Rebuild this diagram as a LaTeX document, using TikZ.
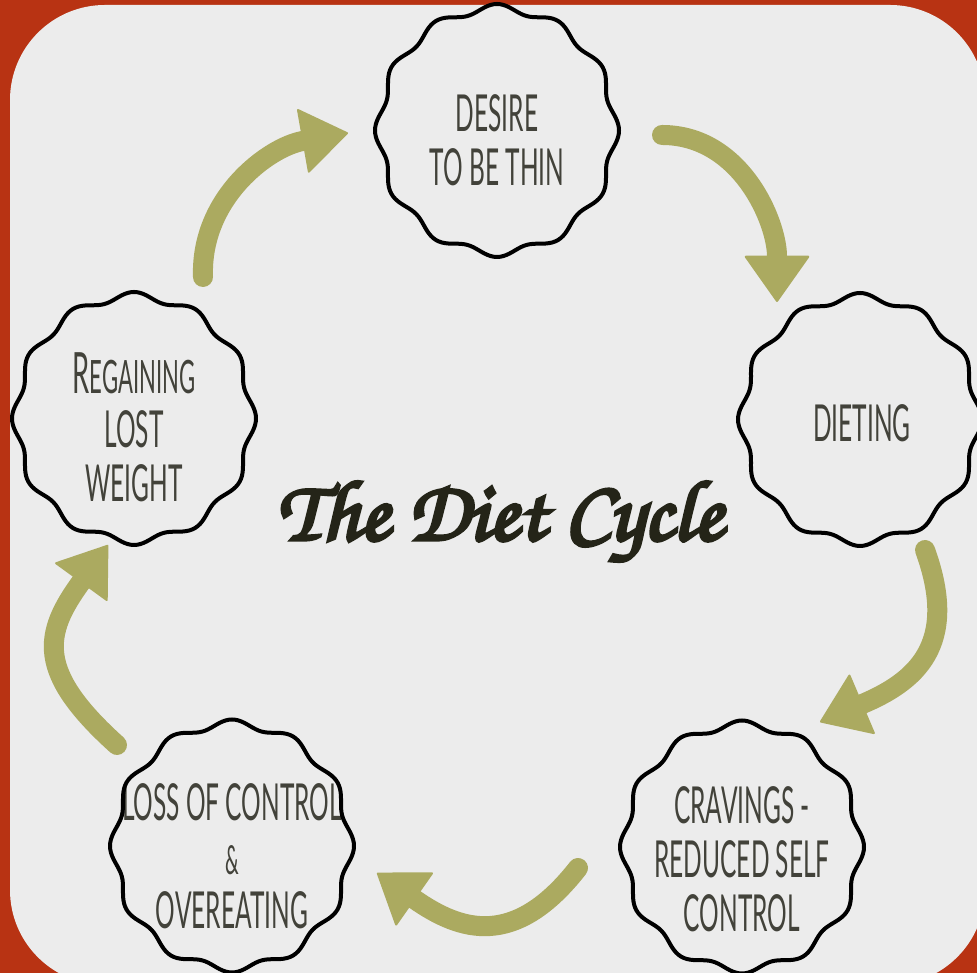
\documentclass[tikz,border=0pt]{standalone}
\usepackage[T1]{fontenc}
\usepackage{fontspec}
\usetikzlibrary{arrows.meta,calc}
\newfontfamily\badgefont[FakeStretch=0.48]{Lato}
\newcommand{\dietscript}{\fontencoding{T1}\fontfamily{pzc}\fontseries{mb}\fontshape{it}\selectfont}
\definecolor{rust}{RGB}{184,51,19}
\definecolor{panel}{RGB}{236,236,236}
\definecolor{olive}{RGB}{171,170,96}
\definecolor{ink}{RGB}{66,66,58}
\definecolor{titleink}{RGB}{36,36,24}
\tikzset{
  badge/.style={align=center, inner sep=0pt, text=ink, font=\badgefont\fontsize{51}{54}\selectfont},
  wave/.style={line width=4pt, line join=round},
  cyc/.style={draw=olive, line width=20pt, line cap=round, -{Triangle[length=47pt,width=66pt,line width=2pt,round]}},
  titletext/.style={anchor=base, inner sep=0pt, text=titleink, font=\dietscript\fontsize{86}{86}\selectfont}
}
\begin{document}
\begin{tikzpicture}[x=1pt,y=1pt]
  \useasboundingbox (0,0) rectangle (977,973);
  \fill[rust] (0,0) rectangle (977,973);
  \fill[panel, rounded corners=95pt] (10,-12) rectangle (985,968);

  \node[badge] (desire) at (497,832.5){DESIRE\\TO BE THIN};
  \node[badge] (dieting) at (862,549.5){DIETING};
  \node[badge] (cravings) at (742,114){CRAVINGS -\\REDUCED SELF\\CONTROL};
  \node[badge] (loss) at (232,117){LOSS OF CONTROL\\{\fontsize{40}{54}\selectfont\&}\\OVEREATING};
  \node[badge] (regain) at (134,545.5){{\fontsize{57}{54}\selectfont R}{\fontsize{46}{54}\selectfont EGAINING}\\LOST\\WEIGHT};

  \foreach \n/\dx/\dy in {desire/0/10, dieting/-2/4, cravings/0/12, loss/0/10, regain/0/9}
    \draw[wave, shift={($(\n.center)+(\dx,\dy)$)}] plot[domain=0:360, samples=241]
      (\x:{118+4*cos(12*\x)} and {122.5+4*cos(12*\x)}) -- cycle;

  \draw[cyc] ($(regain)+(69,150.5)$) to[out=92,in=190] ($(desire)+(-149,7.5)$);
  \draw[cyc] ($(desire)+(165,5.5)$) to[out=0,in=90] ($(dieting)+(-85,121.5)$);
  \draw[cyc] ($(dieting)+(63,-126.5)$) to[out=-70,in=23,looseness=1.3] ($(cravings)+(78,137)$);
  \draw[cyc] ($(cravings)+(-164,-9)$) to[out=232,in=325,looseness=1.3] ($(loss)+(145,-17)$);
  \draw[cyc] ($(loss)+(-115,111)$) to[out=138,in=234,looseness=1.4] ($(regain)+(-26,-117.5)$);

  \node[titletext] (title) at (500,433){\special{pdf:literal direct 2 Tr 3.5 w}The Diet Cycle\special{pdf:literal direct 0 Tr}};
\end{tikzpicture}
\end{document}
